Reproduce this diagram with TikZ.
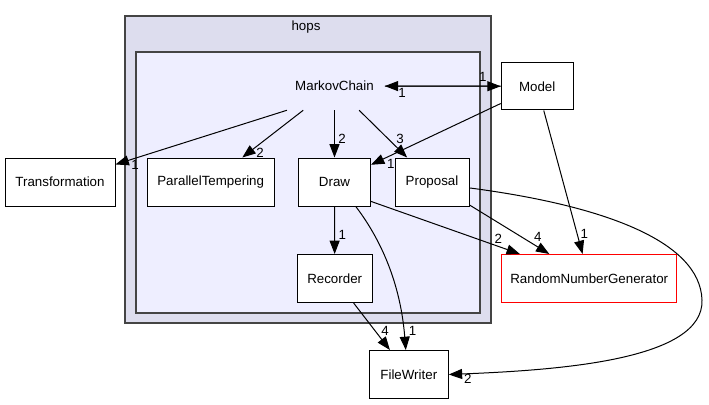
\documentclass[tikz,border=0pt]{standalone}
\usepackage{fontspec}
\setmainfont{Liberation Sans}
\usetikzlibrary{arrows.meta,positioning}
\definecolor{outerfill}{HTML}{DDDDEE}
\definecolor{innerfill}{HTML}{EEEEFF}
\definecolor{clusterline}{HTML}{444444}

\begin{document}
\begin{tikzpicture}[x=0.75pt,y=-0.75pt,>={Triangle[length=10pt,width=7.5pt]},font=\fontsize{10}{12}\selectfont,
		dirbox/.style={draw=black,fill=white,line width=0.75pt,minimum height=36pt,inner sep=0pt},
		dep/.style={->,line width=0.75pt},
		num/.style={inner sep=0pt}]
								\useasboundingbox (0,0) rectangle (709,404);
								\draw[fill=outerfill,draw=clusterline,line width=1.5pt] (125,16) rectangle (491,323);
								\draw[fill=innerfill,draw=clusterline,line width=1.5pt] (136,52) rectangle (480,313);
								\node (hops) at (306,27) {hops};
								\node[minimum width=75pt,minimum height=36pt,inner sep=0pt] (mc) at (334.5,86) {MarkovChain};
						
								\node[dirbox,minimum width=54pt,minimum height=35.5pt] (model) at (537.2,86.3) {Model};
								\node[dirbox,minimum width=82.5pt] (trans) at (60,182) {Transformation};
								\node[dirbox,minimum width=95.25pt] (pt) at (210.7,182) {ParallelTempering};
								\node[dirbox,minimum width=54pt] (draw) at (334.5,182) {Draw};
								\node[dirbox,minimum width=55.5pt] (prop) at (432,182) {Proposal};
								\node[dirbox,minimum width=56.25pt] (rec) at (334.7,278.5) {Recorder};
								\node[dirbox,draw=red,minimum width=131.25pt] (rng) at (589.2,278.5) {RandomNumberGenerator};
								\node[dirbox,minimum width=59.25pt] (fw) at (408.8,374.5) {FileWriter};
						
								\draw[dep] (mc) -- (model); \node[num] (n1) at (482.7,76.7) {1};
								\draw[dep] (model) -- (mc); \node[num] (n2) at (402,93) {1};
								\draw[dep] (mc.207) -- (trans); \node[num] (n3) at (135,165) {1};
								\draw[dep] (mc) -- (pt); \node[num] (n4) at (260,152.7) {2};
								\draw[dep] (mc) -- (draw); \node[num] (n5) at (342,139) {2};
								\draw[dep] (mc) -- (prop); \node[num] (n6) at (400,139) {3};
						
								\draw[dep] (model) -- (draw); \node[num] (n7) at (390.7,164) {1};
								\draw[dep] (model) -- (rng); \node[num] (n8) at (584.3,234.3) {1};
						
								\draw[dep] (draw) -- (rec); \node[num] (n9) at (342.3,235) {1};
								\draw[dep] (draw.-28) -- (rng); \node[num] (n10) at (498.3,239.3) {2};
								\draw[dep] (draw.-49) .. controls (385,245) and (401,290) .. (fw.97); \node[num] (n11) at (412.7,330.7) {1};
						
								\draw[dep] (prop) -- (rng); \node[num] (n12) at (537.7,237.3) {4};
								\draw[dep] (prop.-9) .. controls (600,205) and (700,240) .. (702,300) .. controls (704,360) and (560,370) .. (fw.east); \node[num] (n13) at (467.7,379.3) {2};
						
								\draw[dep] (rec) -- (fw); \node[num] (n14) at (385,330.7) {4};
							\end{tikzpicture}
\end{document}
